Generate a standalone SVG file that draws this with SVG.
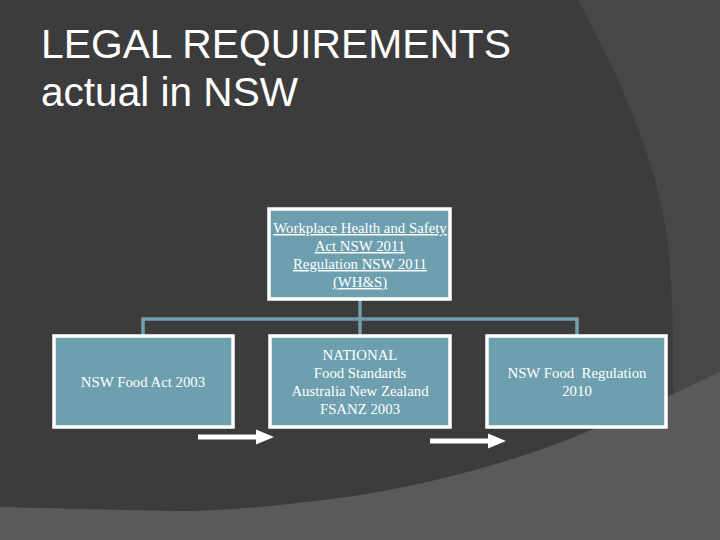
<svg xmlns="http://www.w3.org/2000/svg" width="720" height="540" viewBox="0 0 720 540">
<style>
.title{font-family:"Liberation Sans",Arial,sans-serif;fill:#ffffff;font-size:41px}
.box{fill:#6d9fae;stroke:#ffffff;stroke-width:3.5}
.lbl{font-family:"Liberation Serif","Times New Roman",serif;font-size:14.8px;fill:#ffffff;text-anchor:middle}
.ul{text-decoration:underline}
.conn{fill:none;stroke:#6d9fae;stroke-width:3.5}
.arrow{fill:#ffffff}
</style>
<defs>
<path id="blockArrow" d="M0,-2.5 L58,-2.5 L58,-7.5 L76,0 L58,7.5 L58,2.5 L0,2.5 Z"/>
</defs>
<g id="background">
<rect x="0" y="0" width="720" height="540" fill="#5a5a5a"/>
<path d="M540,0 L720,0 L720,372 L673,394 L540,394 Z" fill="#474747"/>
<path d="M0,0 L578,0 C622,80 655,160 666,230 C674,290 673,350 673,394 C640,410 590,432 537,451 C480,470 420,485 360,495 C290,505 220,512 170,511 L0,507 Z" fill="#3c3c3c"/>
</g>
<g id="title">
<text class="title" x="41" y="58" textLength="470" lengthAdjust="spacingAndGlyphs">LEGAL REQUIREMENTS</text>
<text class="title" x="41" y="106" textLength="257" lengthAdjust="spacingAndGlyphs">actual in NSW</text>
</g>
<g id="connectors">
<path class="conn" d="M360,300 L360,319"/>
<path class="conn" d="M143,336 L143,319 L577,319 L577,336"/>
<path class="conn" d="M360,319 L360,336"/>
</g>
<g id="node-whs">
<rect class="box" x="269" y="209" width="181" height="90"/>
<text class="lbl ul" x="360" y="233">Workplace Health and Safety</text>
<text class="lbl ul" x="360" y="251">Act NSW 2011</text>
<text class="lbl ul" x="360" y="269">Regulation NSW 2011</text>
<text class="lbl ul" x="360" y="287">(WH&amp;S)</text>
</g>
<g id="node-food-act">
<rect class="box" x="54" y="336" width="179" height="91"/>
<text class="lbl" x="143" y="387">NSW Food Act 2003</text>
</g>
<g id="node-fsanz">
<rect class="box" x="270" y="336" width="180" height="91"/>
<text class="lbl" x="360" y="360">NATIONAL</text>
<text class="lbl" x="360" y="378">Food Standards</text>
<text class="lbl" x="360" y="396">Australia New Zealand</text>
<text class="lbl" x="360" y="414">FSANZ 2003</text>
</g>
<g id="node-food-reg">
<rect class="box" x="487" y="336" width="179" height="91"/>
<text class="lbl" x="577" y="378" xml:space="preserve">NSW Food  Regulation</text>
<text class="lbl" x="577" y="396">2010</text>
</g>
<g id="arrows">
<use href="#blockArrow" class="arrow" x="198" y="437"/>
<use href="#blockArrow" class="arrow" x="430" y="441"/>
</g>
</svg>
